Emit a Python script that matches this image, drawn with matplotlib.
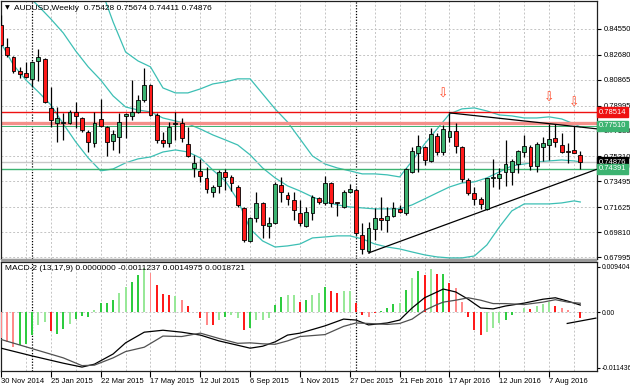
import matplotlib
matplotlib.use('Agg')
import matplotlib.pyplot as plt
import matplotlib.transforms as mtransforms
from matplotlib.patches import Rectangle
import numpy as np

# ---------------- data ----------------
opens = [0.8484,0.8325,0.8252,0.8150,0.8136,0.8093,0.8223,0.8238,0.7882,0.7773,
         0.7773,0.7773,0.7853,0.7809,0.7708,0.7628,0.7802,0.7744,0.7642,0.7671,
         0.7824,0.7824,0.7853,0.7940,0.8049,0.7831,0.7650,0.7628,0.7766,0.7773,
         0.7620,0.7446,0.7425,0.7374,0.7272,0.7316,0.7417,0.7381,0.7308,0.7156,
         0.6916,0.7083,0.7192,0.7025,0.7047,0.7323,0.7250,0.7214,0.7120,0.7025,
         0.7120,0.7229,0.7192,0.7337,0.7196,0.7163,0.7272,0.7287,0.6960,0.6844,
         0.7003,0.7083,0.7069,0.7098,0.7149,0.7120,0.7417,0.7555,0.7599,0.7497,
         0.7679,0.7562,0.7671,0.7715,0.7599,0.7359,0.7265,0.7221,0.7149,0.7374,
         0.7374,0.7417,0.7417,0.7475,0.7562,0.7599,0.7461,0.7599,0.7613,0.7664,
         0.7613,0.7570,0.7577,0.75428]
highs = [0.8557,0.8390,0.8259,0.8180,0.8216,0.8223,0.8310,0.8245,0.8034,0.7889,
         0.7846,0.7867,0.7925,0.7817,0.7722,0.7853,0.7947,0.7751,0.7722,0.7846,
         0.7846,0.8085,0.7976,0.8172,0.8056,0.7846,0.7708,0.7780,0.7853,0.7809,
         0.7744,0.7541,0.7512,0.7454,0.7323,0.7432,0.7439,0.7396,0.7323,0.7163,
         0.7091,0.7272,0.7200,0.7091,0.7345,0.7381,0.7272,0.7272,0.7214,0.7163,
         0.7250,0.7236,0.7388,0.7345,0.7200,0.7287,0.7330,0.7301,0.7047,0.7054,
         0.7156,0.7236,0.7163,0.7200,0.7178,0.7446,0.7599,0.7686,0.7606,0.7737,
         0.7700,0.7758,0.7846,0.7773,0.7606,0.7374,0.7308,0.7236,0.7374,0.7512,
         0.7446,0.7650,0.7512,0.7577,0.7686,0.7613,0.7635,0.7671,0.7766,0.7766,
         0.7700,0.7628,0.7751,0.75674]
lows = [0.8332,0.8252,0.8136,0.8100,0.8100,0.8034,0.8078,0.7918,0.7744,0.7635,
        0.7650,0.7766,0.7737,0.7708,0.7562,0.7599,0.7744,0.7533,0.7577,0.7555,
        0.7664,0.7795,0.7846,0.7925,0.7824,0.7628,0.7599,0.7599,0.7650,0.7635,
        0.7526,0.7381,0.7345,0.7265,0.7236,0.7265,0.7287,0.7279,0.7163,0.6909,
        0.6909,0.7054,0.6938,0.6938,0.7040,0.7200,0.7178,0.7069,0.7025,0.7018,
        0.7069,0.7185,0.7178,0.7163,0.7098,0.7156,0.7265,0.6960,0.6822,0.6829,
        0.6924,0.6996,0.6982,0.7091,0.7120,0.7105,0.7410,0.7417,0.7468,0.7490,
        0.7541,0.7541,0.7635,0.7555,0.7345,0.7250,0.7178,0.7149,0.7141,0.7308,
        0.7294,0.7316,0.7323,0.7410,0.7526,0.7432,0.7417,0.7497,0.7504,0.7599,
        0.7555,0.7483,0.7555,0.74411]
closes = [0.8339,0.8267,0.8150,0.8129,0.8107,0.8216,0.8252,0.7925,0.7795,0.7809,
          0.7777,0.7853,0.7824,0.7722,0.7635,0.7773,0.7751,0.7635,0.7693,0.7780,
          0.7838,0.7853,0.7940,0.8049,0.7831,0.7650,0.7628,0.7744,0.7773,0.7664,
          0.7533,0.7483,0.7388,0.7294,0.7308,0.7417,0.7381,0.7337,0.7178,0.6924,
          0.7083,0.7192,0.7032,0.7047,0.7330,0.7272,0.7221,0.7141,0.7047,0.7127,
          0.7236,0.7200,0.7337,0.7192,0.7189,0.7272,0.7294,0.6974,0.6858,0.7011,
          0.7083,0.7069,0.7098,0.7156,0.7127,0.7439,0.7570,0.7606,0.7504,0.7693,
          0.7562,0.7729,0.7715,0.7606,0.7366,0.7265,0.7221,0.7185,0.7374,0.7381,
          0.7403,0.7475,0.7497,0.7570,0.7606,0.7461,0.7620,0.7628,0.7657,0.7635,
          0.7562,0.7562,0.7555,0.74876]

# Bollinger bands (read at these bar indices)
band_idx = [0,2,4,6,8,10,12,14,16,18,20,22,24,26,28,30,32,34,36,38,40,42,44,46,48,
            50,52,54,56,58,60,62,64,66,68,70,72,74,76,78,80,82,84,86,88,90,92,93]
bb_upper = [0.934,0.936,0.934,0.925,0.915,0.909,0.896,0.884,0.8753,0.8506,0.8288,0.8223,
            0.8180,0.8027,0.7991,0.7991,0.8020,0.8056,0.8071,0.8093,0.8093,0.7984,0.7875,
            0.7780,0.7657,0.7533,0.7475,0.7446,0.7425,0.7403,0.7403,0.7396,0.7381,0.7497,
            0.7620,0.7729,0.7838,0.7875,0.7882,0.7860,0.7831,0.7824,0.7809,0.7809,0.7817,
            0.7802,0.7766,0.7744]
bb_middle = [0.8848,0.8775,0.8710,0.8622,0.8528,0.8426,0.8295,0.8180,0.8085,0.7969,0.7889,
             0.7867,0.7853,0.7809,0.7787,0.7766,0.7729,0.7686,0.7650,0.7613,0.7541,0.7446,
             0.7374,0.7316,0.7279,0.7236,0.7199,0.7178,0.7163,0.7156,0.7149,0.7149,0.7149,
             0.7178,0.7221,0.7265,0.7308,0.7337,0.7345,0.7374,0.7417,0.7461,0.7475,0.7490,
             0.7497,0.7504,0.7497,0.7490]
bb_lower = [0.8354,0.8194,0.8085,0.7998,0.7904,0.7766,0.7635,0.7519,0.7425,0.7439,0.7483,
            0.7512,0.7526,0.7562,0.7577,0.7562,0.7519,0.7431,0.7352,0.7214,0.7003,0.6916,
            0.6872,0.6880,0.6894,0.6938,0.6945,0.6953,0.6953,0.6931,0.6894,0.6872,0.6858,
            0.6836,0.6815,0.6800,0.6793,0.6793,0.6807,0.6887,0.7017,0.7134,0.7185,0.7185,
            0.7185,0.7192,0.7207,0.7199]

# horizontal levels and trend lines
level_red = 0.78514
level_salmon = 0.7773
level_green_hi = 0.77510
level_green_lo = 0.74391
bid = 0.74876
tl_upper = [(72, 0.7846), (92, 0.7748)]
tl_lower = [(59, 0.6829), (78, 0.7144)]
arrow_idx = [71, 88, 92]
arrow_price = [0.7984, 0.7955, 0.7920]
year_start_idx = [5, 57]

# MACD-2 (13,17,9)
hist = [-0.0054,-0.0062,-0.0071,-0.0067,-0.0066,-0.0047,-0.0026,-0.0019,-0.0038,-0.0044,
        -0.0034,-0.0025,-0.0013,-0.0008,-0.0009,0.0005,0.0019,0.0019,0.0025,0.0039,
        0.0053,0.0063,0.0076,0.0092,0.0082,0.0056,0.0037,0.0036,0.0034,0.0026,
        0.0014,0.0000,-0.0012,-0.0026,-0.0026,-0.0016,-0.0009,-0.0006,-0.0012,-0.0036,
        -0.0033,-0.0016,-0.0016,-0.0012,0.0015,0.0032,0.0036,0.0036,0.0022,0.0025,
        0.0036,0.0039,0.0053,0.0043,0.0039,0.0044,0.0044,0.0019,-0.0006,-0.0009,
        -0.0001,0.0003,0.0008,0.0017,0.0020,0.0047,0.0070,0.0086,0.0077,0.0089,
        0.0079,0.0080,0.0060,0.0050,0.0022,-0.0009,-0.0036,-0.0047,-0.0040,-0.0033,
        -0.0023,-0.0016,-0.0006,0.0001,0.0008,0.0006,0.0012,0.0017,0.0021,0.0012,
        0.0008,0.0005,0.0001,-0.0011237]
hist_col = ['P','P','P','G','G','G','L','L','R','G',
            'G','L','G','G','G','L','G','G','G','L',
            'L','G','G','L','P','R','R','R','L','P',
            'R','R','R','P','R','L','G','L','L','R',
            'G','L','L','L','G','G','L','L','R','G',
            'L','L','G','R','R','L','L','R','R','P',
            'R','G','G','G','L','G','L','G','R','L',
            'R','G','R','P','P','R','R','R','L','L',
            'L','G','G','L','L','R','L','L','L','R',
            'P','P','P','R']
macd_idx = [0,5,10,13,15,18,20,23,26,29,32,35,38,40,42,44,46,48,52,55,57,59,62,64,66,
            68,70,71,73,75,77,79,81,84,87,89,91,93]
macd_line = [-0.0074,-0.0090,-0.0105,-0.0113,-0.0107,-0.0086,-0.0063,-0.0041,-0.0037,-0.0041,
             -0.0047,-0.0059,-0.0068,-0.0074,-0.0070,-0.0061,-0.0047,-0.0043,-0.0028,-0.0014,
             -0.0016,-0.0026,-0.0022,-0.0016,0.0009,0.0030,0.0042,0.0048,0.0042,0.0027,
             0.0009,0.0007,0.0013,0.0019,0.0027,0.0030,0.0023,0.0014975]
signal_line = [-0.0056,-0.0075,-0.0094,-0.0110,-0.0109,-0.0094,-0.0081,-0.0072,-0.0049,-0.0050,
               -0.0043,-0.0054,-0.0064,-0.0063,-0.0065,-0.0066,-0.0059,-0.0050,-0.0046,-0.0029,
               -0.0022,-0.0023,-0.0025,-0.0023,-0.0014,0.0004,0.0016,0.0021,0.0025,0.0030,
               0.0025,0.0018,0.0018,0.0016,0.0021,0.0026,0.0021,0.0018721]
macd_tl = [(90.9, -0.0023), (95.5, -0.0012)]

price_ticks = [0.84550,0.82680,0.80865,0.78995,0.77180,0.75310,0.73495,0.71625,0.69810,0.67995]
macd_ticks = [0.009404, 0.0, -0.011436]
macd_tick_labels = ['0.009404', '0.00', '-0.011436']
date_idx = [0,8,16,24,32,40,48,56,64,72,80,88]
date_labels = ['30 Nov 2014','25 Jan 2015','22 Mar 2015','17 May 2015','12 Jul 2015','6 Sep 2015',
               '1 Nov 2015','27 Dec 2015','21 Feb 2016','17 Apr 2016','12 Jun 2016','7 Aug 2016']

# ---------------- figure ----------------
plt.rcParams['font.family'] = ['Liberation Sans', 'DejaVu Sans']
FS = 5.5
W, H = 630, 388
fig = plt.figure(figsize=(W/100, H/100), dpi=100)
fig.patch.set_facecolor('white')

def fx(px): return px / W
def fy(py): return 1 - py / H

ax = fig.add_axes([fx(0.5), fy(259), 596 / W, 258 / H])
axm = fig.add_axes([fx(0.5), fy(371), 596 / W, 109 / H])

# panel separator
fig.patches.append(Rectangle((fx(0.5), fy(262)), 596 / W, 3 / H, transform=fig.transFigure,
                             facecolor='#9a9a9a', edgecolor='none', zorder=0))

XMIN, XMAX = -0.08, 95.6
GRID = '#c4c4c4'
for a in (ax, axm):
    a.set_xlim(XMIN, XMAX)
    for s in a.spines.values():
        s.set_color('#202020'); s.set_linewidth(0.9)
    for gx in range(0, 96, 4):
        a.axvline(gx, color=GRID, lw=0.7, ls=(0, (2, 2)), zorder=0)
    for yi in year_start_idx:
        a.axvline(yi, color='black', lw=0.9, ls=(0, (1, 1.3)), zorder=1)

ax.set_ylim(0.67850, 0.86583)
axm.set_ylim(-0.01211, 0.01038)

for p in price_ticks:
    ax.axhline(p, color=GRID, lw=0.7, ls=(0, (2, 2)), zorder=0)
axm.axhline(0, color=GRID, lw=0.7, ls=(0, (2, 2)), zorder=0)

# Bollinger bands
bcol = '#3cbfb4'
for band in (bb_upper, bb_middle, bb_lower):
    ax.plot(band_idx, band, color=bcol, lw=0.9, zorder=2)

# horizontal levels
ax.axhline(level_red, color='#ee1111', lw=1.0, zorder=2)
ax.axhline(level_salmon, color='#f4908a', lw=2.4, zorder=2)
ax.axhline(level_green_hi, color='#3cb371', lw=0.7, zorder=2)
ax.axhline(bid, color='#c8c8c8', lw=1.0, zorder=2)
ax.axhline(level_green_lo, color='#3cb371', lw=1.0, zorder=2)

# trend lines (rays to the right)
for (x0, y0), (x1, y1) in (tl_upper, tl_lower):
    slope = (y1 - y0) / (x1 - x0)
    ax.plot([x0, XMAX], [y0, y0 + slope * (XMAX - x0)], color='black', lw=0.9, zorder=3)

# candles
idx = np.arange(len(opens))
o = np.array(opens); c = np.array(closes); h = np.array(highs); l = np.array(lows)
ax.vlines(idx, l, h, color='black', lw=0.9, zorder=4)
bull = c >= o
body_bot = np.minimum(o, c)
body_h = np.maximum(np.abs(c - o), 0.0004)
ax.bar(idx[bull], body_h[bull], bottom=body_bot[bull], width=0.62, color='#3cb371',
       edgecolor='black', linewidth=0.6, zorder=5)
ax.bar(idx[~bull], body_h[~bull], bottom=body_bot[~bull], width=0.62, color='#ff1a1a',
       edgecolor='black', linewidth=0.6, zorder=5)

# arrows
for xi, pr in zip(arrow_idx, arrow_price):
    ax.text(xi, pr, '\u21e9', color='#ff4a2a', fontsize=9, ha='center', va='center', zorder=6,
            family='DejaVu Sans')

# right price axis
ax.yaxis.tick_right()
ax.set_yticks(price_ticks)
ax.set_yticklabels([f'{p:.5f}' for p in price_ticks])
ax.tick_params(axis='y', labelsize=FS, length=3, width=0.8, pad=2, colors='black')
ax.tick_params(axis='x', length=0, labelbottom=False)

trans = mtransforms.blended_transform_factory(fig.transFigure, ax.transData)
for val, col in ((0.78514, '#ee1111'), (0.77510, '#3cb371'), (0.74876, '#000000'), (0.74391, '#3cb371')):
    ax.text(fx(599), val, f'{val:.5f}', transform=trans, fontsize=FS, color='white', va='center',
            ha='left', clip_on=False, zorder=10,
            bbox=dict(boxstyle='square,pad=0.2', fc=col, ec=col))

# MACD panel
cmap = {'G': '#2ecc40', 'L': '#98e898', 'R': '#ff1a1a', 'P': '#ff8a8a'}
axm.bar(idx, hist, width=0.32, color=[cmap[k] for k in hist_col], zorder=3)
axm.plot(macd_idx, macd_line, color='black', lw=0.9, zorder=4)
axm.plot(macd_idx, signal_line, color='#505050', lw=0.9, zorder=4)
axm.plot([p[0] for p in macd_tl], [p[1] for p in macd_tl], color='black', lw=0.9, zorder=4)

axm.yaxis.tick_right()
axm.set_yticks(macd_ticks)
axm.set_yticklabels(macd_tick_labels)
axm.tick_params(axis='y', labelsize=4.9, length=2.5, width=0.8, pad=1)
axm.set_xticks(date_idx)
axm.set_xticklabels(date_labels)
axm.tick_params(axis='x', labelsize=FS, length=4, width=0.8, pad=1)
for lbl in axm.get_xticklabels():
    lbl.set_ha('left')

# header texts
fig.text(fx(5), fy(8), '\u25bc', fontsize=4.5, va='center', ha='left', family='DejaVu Sans')
fig.text(fx(14), fy(8), 'AUDUSD,Weekly  0.75428 0.75674 0.74411 0.74876', fontsize=6,
         va='center', ha='left')
fig.text(fx(5), fy(268), 'MACD-2 (13,17,9) 0.0000000 -0.0011237 0.0014975 0.0018721', fontsize=6,
         va='center', ha='left')

fig.savefig('out.png', dpi=100, facecolor='white')
